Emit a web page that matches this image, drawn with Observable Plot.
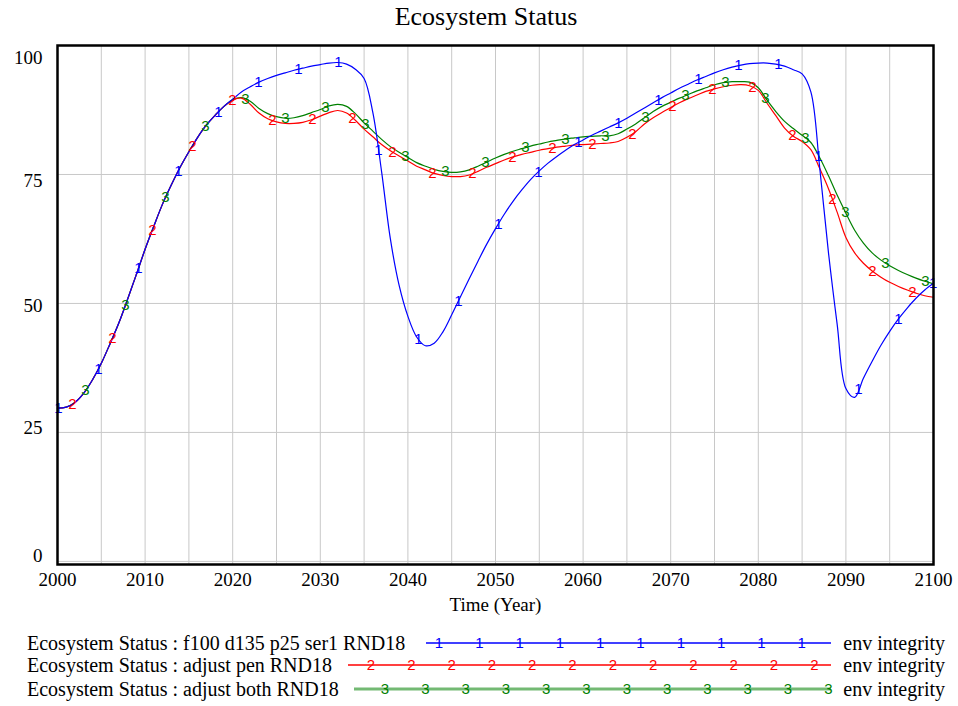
<!DOCTYPE html>
<html>
<head>
<meta charset="utf-8">
<script src="https://cdn.jsdelivr.net/npm/d3@7"></script>
<script src="https://cdn.jsdelivr.net/npm/@observablehq/plot@0.6"></script>
<style>
  body { margin: 0; background: #fff; }
  #wrap { position: relative; width: 958px; height: 706px; overflow: hidden; }
  #title { position: absolute; top: 1px; left: 0; width: 972px; text-align: center;
           font-family: "Liberation Serif", serif; font-size: 26px; line-height: 32px; color: #000; }
  #chart { position: absolute; top: 30px; left: 0; }
  #legend { position: absolute; top: 620px; left: 0; }
</style>
</head>
<body>
<div id="wrap">
  <div id="title">Ecosystem Status</div>
  <div id="chart"></div>
  <div id="legend"></div>
</div>
<script>
// ---- data ----
const years = d3.range(2000, 2101);
const xTicks = [2000, 2010, 2020, 2030, 2040, 2050, 2060, 2070, 2080, 2090, 2100];
const yTicks = [0, 25, 50, 75, 100];

const seriesNames = [
  "Ecosystem Status : f100 d135 p25 ser1 RND18",
  "Ecosystem Status : adjust pen RND18",
  "Ecosystem Status : adjust both RND18"
];
const unitsLabel = "env integrity";

const run1 = [29.7, 29.9, 30.8, 32.6, 35.2, 38.4, 42.2, 46.2, 50.8, 55.6, 60.5, 65.0, 69.3, 73.0, 76.4, 79.4, 82.2, 84.6, 86.5, 88.2, 89.6,
  91.0, 92.0, 92.9, 93.6, 94.2, 94.7, 95.2, 95.6, 96.0, 96.3, 96.6, 96.7, 96.4, 95.4, 93.6, 87.0, 75.5, 62.5, 53.5, 47.5,
  43.5, 41.8, 42.3, 44.5, 47.8, 51.3, 54.8, 58.2, 61.5, 64.5, 67.3, 69.8, 72.0, 74.0, 75.7, 77.2, 78.5, 79.7, 80.8, 81.7,
  82.6, 83.4, 84.2, 85.0, 85.9, 86.9, 87.9, 88.9, 89.9, 90.8, 91.7, 92.5, 93.3, 94.0, 94.7, 95.3, 95.8, 96.2, 96.5, 96.6,
  96.6, 96.4, 96.0, 95.3, 94.5, 91.0, 76.5, 60.0, 46.0, 33.5, 31.8, 35.5, 38.8, 41.9, 44.6, 47.0, 49.1, 51.0, 52.6, 53.9];

const run2 = [29.7, 29.9, 30.8, 32.6, 35.2, 38.4, 42.2, 46.2, 50.8, 55.6, 60.5, 65.0, 69.3, 73.0, 76.4, 79.4, 82.2, 84.6, 86.5, 88.2, 89.4,
  89.8, 88.6, 86.9, 85.8, 85.2, 84.9, 84.9, 85.1, 85.6, 86.3, 87.0, 87.4, 86.9, 85.5, 83.8, 82.3, 80.8, 79.6, 78.6, 77.6,
  76.6, 75.9, 75.2, 74.8, 74.6, 74.6, 74.9, 75.6, 76.4, 77.1, 77.8, 78.4, 78.9, 79.3, 79.7, 80.0, 80.3, 80.5, 80.7, 80.8,
  80.9, 81.0, 81.1, 81.4, 82.2, 83.3, 84.8, 86.0, 87.0, 88.0, 88.9, 89.7, 90.4, 91.1, 91.6, 92.0, 92.3, 92.4, 92.2, 91.3,
  88.8, 86.4, 84.0, 82.4, 81.4, 79.8, 76.2, 72.3, 67.7, 62.8, 59.8, 57.8, 56.3, 55.1, 54.1, 53.3, 52.6, 52.0, 51.5, 51.2];

const run3 = [29.7, 29.9, 30.8, 32.6, 35.2, 38.4, 42.2, 46.2, 50.8, 55.6, 60.5, 65.0, 69.3, 73.0, 76.4, 79.4, 82.2, 84.6, 86.5, 88.2, 89.5,
  89.9, 89.2, 87.8, 86.8, 86.2, 85.9, 86.0, 86.4, 87.0, 87.6, 88.3, 88.6, 88.2, 86.8, 85.0, 83.4, 81.8, 80.4, 79.3, 78.3,
  77.3, 76.6, 76.0, 75.6, 75.4, 75.5, 75.9, 76.6, 77.4, 78.2, 78.9, 79.5, 80.0, 80.5, 80.9, 81.3, 81.6, 81.9, 82.1, 82.3,
  82.4, 82.5, 82.5, 82.9, 83.8, 84.8, 86.0, 87.2, 88.2, 89.0, 89.8, 90.5, 91.2, 91.8, 92.4, 92.8, 93.0, 93.0, 92.9, 91.8,
  89.4, 87.2, 85.3, 83.9, 82.6, 81.2, 78.3, 74.8, 71.0, 67.5, 64.2, 61.7, 59.8, 58.4, 57.3, 56.4, 55.6, 54.9, 54.3, 53.8];

// ---- styling ----
const colors = ["#0000ff", "#ff0000", "#008000"];
const runs = [run1, run2, run3];
const markStart = [2000.1, 2001.7, 2003.2];   // first marker year of each run
const markStep = 40 / 8.76;                     // marker spacing in years
const yLabelShift = [-5, -5, 2, 6, 12];         // label offsets from gridlines (px)

function lineData(vals) { return years.map((yr, i) => ({x: yr, y: vals[i]})); }
function markersFor(vals, start, extraEnd) {
  const out = [];
  for (let t = start; t <= 2100 + 1e-9; t += markStep) {
    const i = Math.min(Math.floor(t - 2000), 99);
    const f = t - 2000 - i;
    out.push({x: t, y: vals[i] * (1 - f) + vals[i + 1] * f});
  }
  if (extraEnd) out.push({x: 2099.95, y: vals[100]});
  return out;
}

const marks = [
  Plot.ruleX(d3.range(2005, 2100, 5), {stroke: "#c8c8c8", strokeWidth: 1}),
  Plot.ruleY([0, 25, 50, 75], {stroke: "#c8c8c8", strokeWidth: 1}),
];
[2, 1, 0].forEach(k => {
  marks.push(Plot.line(lineData(runs[k]), {x: "x", y: "y", stroke: colors[k], strokeWidth: 1.2, curve: "catmull-rom"}));
});
[2, 1, 0].forEach(k => {
  marks.push(Plot.text(markersFor(runs[k], markStart[k], k === 0), {
    x: "x", y: "y", text: () => String(k + 1), fill: colors[k],
    fontSize: 15, fontFamily: "Liberation Sans, Arial, sans-serif"
  }));
});
marks.push(Plot.frame({stroke: "#000", strokeWidth: 2.5}));
marks.push(Plot.axisX(xTicks, {tickSize: 0, tickPadding: 8, label: null, fontSize: 19, tickFormat: d => String(d)}));
yTicks.forEach((t, i) => {
  marks.push(Plot.axisY([t], {tickSize: 0, tickPadding: 15, label: null, fontSize: 19, dy: yLabelShift[i]}));
});
marks.push(Plot.text(["Time (Year)"], {frameAnchor: "bottom", dy: 40, fontSize: 19, lineAnchor: "middle"}));

const chart = Plot.plot({
  width: 958,
  height: 590,
  marginTop: 15,
  marginBottom: 56,
  marginLeft: 57,
  marginRight: 25,
  style: {fontFamily: "Liberation Serif, serif", fontSize: "19px", color: "#000", background: "#fff"},
  x: {domain: [2000, 2100]},
  y: {domain: [-0.6, 100]},
  marks
});
document.getElementById("chart").appendChild(chart);

// ---- legend ----
const legW = 958, legH = 86;
const svg = d3.create("svg").attr("width", legW).attr("height", legH)
  .style("font-family", "Liberation Serif, serif").style("font-size", "20px");
const rowY = [23, 45, 69];
const lineStart = [426, 348, 354];
const lineEnd = 831;
const symStart = [439, 371, 385];
const symCount = [10, 12, 12];
const legStroke = [{w: 1.5, c: "#0000ff", o: 1}, {w: 1.5, c: "#ff0000", o: 1}, {w: 3, c: "#008000", o: 0.55}];
seriesNames.forEach((name, k) => {
  const y = rowY[k];
  svg.append("text").attr("x", 27).attr("y", y).attr("dy", "0.35em").text(name);
  svg.append("line").attr("x1", lineStart[k]).attr("x2", lineEnd).attr("y1", y).attr("y2", y)
    .attr("stroke", legStroke[k].c).attr("stroke-width", legStroke[k].w).attr("stroke-opacity", legStroke[k].o);
  for (let j = 0; j < symCount[k]; j++) {
    svg.append("text").attr("x", symStart[k] + j * 40.3).attr("y", y).attr("dy", "0.35em")
      .attr("text-anchor", "middle").attr("fill", colors[k])
      .style("font-family", "Liberation Sans, Arial, sans-serif").style("font-size", "15px")
      .text(String(k + 1));
  }
  svg.append("text").attr("x", 945).attr("y", y).attr("dy", "0.35em").attr("text-anchor", "end").text(unitsLabel);
});
document.getElementById("legend").appendChild(svg.node());
</script>
</body>
</html>
